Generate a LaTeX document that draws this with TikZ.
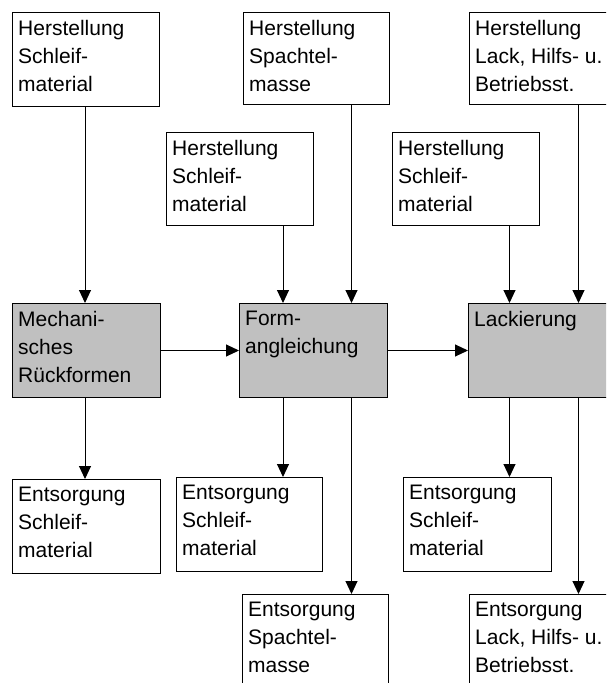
\documentclass[tikz,border=0pt]{standalone}
\usepackage{fontspec}
\setmainfont{Liberation Sans}
\usetikzlibrary{arrows.meta,calc}
\definecolor{boxgray}{HTML}{C0C0C0}
\tikzset{
  box/.style={draw=black, line width=1pt, fill=white, rectangle, inner sep=0pt,
    anchor=north west},
  graybox/.style={box, fill=boxgray},
  txt/.style={anchor=north west, inner sep=0pt, align=left,
    font=\fontsize{21}{28}\selectfont},
  flow/.style={draw=black, line width=1pt, -{Triangle[length=13pt,width=12pt]}}
}
\newcommand{\mybox}[6]{% name, style, x,y, width, height, text
  \node[#2, minimum width=#4, minimum height=#5] (#1) at (#3) {};
  \node[txt] (#1t) at ([xshift=6pt,yshift=-8pt]#1.north west) {#6};
}
\begin{document}
\begin{tikzpicture}[x=1pt,y=-1pt]
\useasboundingbox (0,0) rectangle (606,683);
\clip (0,0) rectangle (606,683);
% top row
\mybox{hsa}{box}{12,12}{147pt}{94pt}{Herstellung\\Schleif-\\material}
\mybox{hsp}{box}{243,12}{146pt}{92pt}{Herstellung\\Spachtel-\\masse}
\mybox{hla}{box}{469,12}{156pt}{92pt}{Herstellung\\Lack, Hilfs- u.\\Betriebsst.}
% second row
\mybox{hsb}{box}{166,132}{147pt}{93pt}{Herstellung\\Schleif-\\material}
\mybox{hsc}{box}{392,132}{147pt}{93pt}{Herstellung\\Schleif-\\material}
% process row
\mybox{mech}{graybox}{12,303}{148pt}{94pt}{Mechani-\\sches\\Rückformen}
\mybox{form}{graybox}{239,303}{148pt}{94pt}{Form-\\angleichung}
\mybox{lack}{graybox}{468,303}{157pt}{94pt}{Lackierung}
% disposal row
\mybox{esa}{box}{12,479}{148pt}{94pt}{Entsorgung\\Schleif-\\material}
\mybox{esb}{box}{176,477}{146pt}{94pt}{Entsorgung\\Schleif-\\material}
\mybox{esc}{box}{403,477}{148pt}{94pt}{Entsorgung\\Schleif-\\material}
\mybox{esp}{box}{242,594}{146pt}{106pt}{Entsorgung\\Spachtel-\\masse}
\mybox{ela}{box}{469,594}{156pt}{106pt}{Entsorgung\\Lack, Hilfs- u.\\Betriebsst.}
% column coordinates
\coordinate (c1) at (85,0);
\coordinate (c2) at (283,0);
\coordinate (c3) at (351.5,0);
\coordinate (c4) at (509.5,0);
\coordinate (c5) at (578.5,0);
% connectors
\draw[flow] (hsa.south -| c1) -- (mech.north -| c1);
\draw[flow] (hsb.south -| c2) -- (form.north -| c2);
\draw[flow] (hsp.south -| c3) -- (form.north -| c3);
\draw[flow] (hsc.south -| c4) -- (lack.north -| c4);
\draw[flow] (hla.south -| c5) -- (lack.north -| c5);
\draw[flow] (mech.east) -- (form.west);
\draw[flow] (form.east) -- (lack.west |- form.east);
\draw[flow] (mech.south -| c1) -- (esa.north -| c1);
\draw[flow] (form.south -| c2) -- (esb.north -| c2);
\draw[flow] (form.south -| c3) -- (esp.north -| c3);
\draw[flow] (lack.south -| c4) -- (esc.north -| c4);
\draw[flow] (lack.south -| c5) -- (ela.north -| c5);
\end{tikzpicture}
\end{document}
